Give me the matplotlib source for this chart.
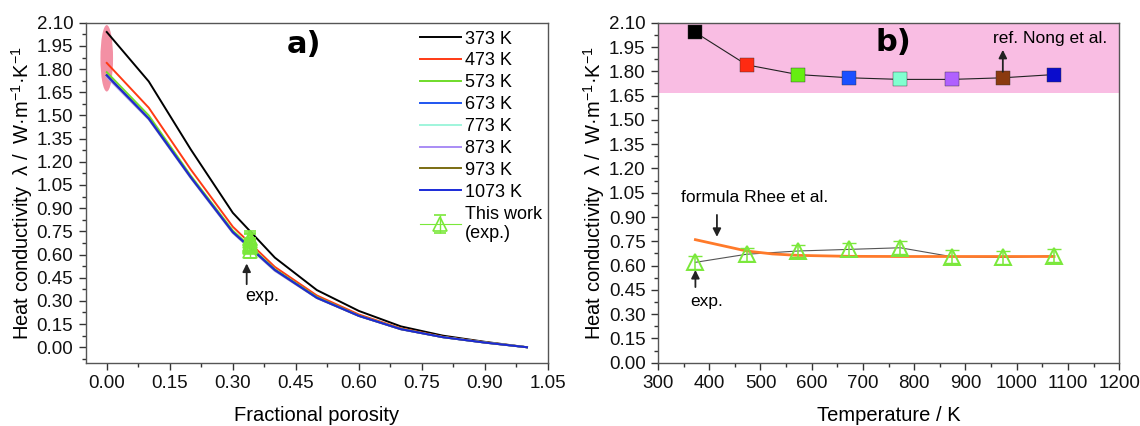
import numpy as np
import matplotlib
matplotlib.use('Agg')
import matplotlib.pyplot as plt
from matplotlib.patches import Ellipse
from matplotlib.ticker import MultipleLocator, FormatStrFormatter

plt.rcParams['font.family'] = ['Liberation Sans', 'DejaVu Sans']
plt.rcParams['mathtext.fontset'] = 'custom'
plt.rcParams['mathtext.rm'] = 'Liberation Sans'
plt.rcParams['mathtext.it'] = 'Liberation Sans:italic'

# ---- data: panel a) ----
porosity = [0.0, 0.1, 0.2, 0.3, 0.4, 0.5, 0.6, 0.7, 0.8, 0.9, 1.0]
temp_labels = ['373 K', '473 K', '573 K', '673 K', '773 K', '873 K', '973 K', '1073 K']
k_373 = [2.04, 1.72, 1.28, 0.87, 0.58, 0.37, 0.235, 0.135, 0.075, 0.035, 0.0]
k_473 = [1.84, 1.55, 1.15, 0.78, 0.52, 0.335, 0.212, 0.122, 0.068, 0.032, 0.0]
k_573 = [1.78, 1.50, 1.11, 0.755, 0.505, 0.325, 0.205, 0.118, 0.066, 0.031, 0.0]
k_673 = [1.76, 1.48, 1.10, 0.745, 0.50, 0.32, 0.203, 0.117, 0.065, 0.030, 0.0]
k_773 = [1.75, 1.475, 1.095, 0.74, 0.495, 0.318, 0.202, 0.116, 0.065, 0.030, 0.0]
k_873 = [1.75, 1.475, 1.095, 0.74, 0.495, 0.318, 0.202, 0.116, 0.065, 0.030, 0.0]
k_973 = [1.76, 1.48, 1.10, 0.745, 0.50, 0.32, 0.203, 0.117, 0.065, 0.030, 0.0]
k_1073 = [1.76, 1.48, 1.10, 0.745, 0.50, 0.32, 0.203, 0.117, 0.065, 0.030, 0.0]
exp_porosity = 0.34

# ---- data: panel b) ----
temperature = [373, 473, 573, 673, 773, 873, 973, 1073]
k_nong = [2.04, 1.84, 1.78, 1.76, 1.75, 1.75, 1.76, 1.78]
k_exp = [0.62, 0.67, 0.69, 0.70, 0.71, 0.655, 0.65, 0.66]
k_exp_err = [0.04, 0.04, 0.04, 0.04, 0.04, 0.04, 0.04, 0.04]
rhee_T = [373, 423, 473, 523, 573, 673, 773, 873, 973, 1073]
k_rhee = [0.76, 0.725, 0.69, 0.672, 0.663, 0.657, 0.656, 0.656, 0.656, 0.656]

line_colors = ['#000000', '#ff3a14', '#6fdc2a', '#1f55f0', '#9ff5dc',
               '#a98cf5', '#7b6d12', '#1a2ad8']
square_colors = ['#000000', '#ff2a12', '#66ee11', '#1a50ff', '#80ffd0',
                 '#b060ff', '#8b3a0f', '#0a0ccc']
exp_green = '#7ae83a'

fig = plt.figure(figsize=(11.4, 4.26), dpi=100)
ax1 = fig.add_axes([0.0752, 0.1486, 0.4055, 0.798])
ax2 = fig.add_axes([0.5772, 0.1486, 0.4045, 0.798])

ylabel = 'Heat conductivity  λ /  W·m$^{-1}$·K$^{-1}$'
arrow = dict(arrowstyle='-|>', color='#222222', lw=1.3, mutation_scale=12)

# ---------- panel a ----------
ax1.add_patch(Ellipse((0.0, 1.87), 0.03, 0.43, color='#f2849a', alpha=0.9,
                      lw=0, zorder=1))
series = [k_373, k_473, k_573, k_673, k_773, k_873, k_973, k_1073]
for vals, lab, c in zip(series, temp_labels, line_colors):
    ax1.plot(porosity, vals, color=c, lw=1.4, label=lab, zorder=2)

ax1.errorbar([exp_porosity] * len(k_exp), k_exp, yerr=k_exp_err, color=exp_green,
             lw=0.8, marker='^', mfc='none', mec=exp_green, ms=10, mew=1.2,
             capsize=4, elinewidth=1, label='This work\n(exp.)', zorder=3)

ax1.annotate('', xy=(0.333, 0.56), xytext=(0.333, 0.39), arrowprops=arrow)
ax1.text(0.37, 0.33, 'exp.', fontsize=13, ha='center', va='center')
ax1.text(0.47, 1.96, 'a)', fontsize=22, fontweight='bold', ha='center',
         va='center', family='DejaVu Sans')

ax1.set_xlim(-0.05, 1.05)
ax1.set_ylim(-0.1, 2.1)
ax1.xaxis.set_major_locator(MultipleLocator(0.15))
ax1.xaxis.set_minor_locator(MultipleLocator(0.075))
ax1.yaxis.set_major_locator(MultipleLocator(0.15))
ax1.yaxis.set_minor_locator(MultipleLocator(0.075))
ax1.xaxis.set_major_formatter(FormatStrFormatter('%.2f'))
ax1.yaxis.set_major_formatter(FormatStrFormatter('%.2f'))
ax1.set_xlabel('Fractional porosity', fontsize=14.5, labelpad=10)
ax1.set_ylabel(ylabel, fontsize=14.5, labelpad=1)

leg = ax1.legend(loc='upper left', bbox_to_anchor=(0.723, 0.977), frameon=False,
                 fontsize=13, handlelength=2.27, handletextpad=0.22,
                 labelspacing=0.27, borderaxespad=0, borderpad=0)

# ---------- panel b ----------
ax2.axhspan(1.668, 2.1, color='#f9bde3', lw=0, zorder=0)
ax2.plot(temperature, k_nong, color='#222222', lw=0.8, zorder=2)
for t, k, c in zip(temperature, k_nong, square_colors):
    ax2.plot(t, k, marker='s', ms=10, color=c, mec='#333333', mew=0.3, zorder=3)

ax2.plot(temperature, k_exp, color='#555555', lw=0.8, zorder=2)
ax2.plot(rhee_T, k_rhee, color='#ff7a2a', lw=2, zorder=3)
ax2.errorbar(temperature, k_exp, yerr=k_exp_err, fmt='none', ecolor=exp_green,
             elinewidth=1.1, capsize=5, zorder=4)
ax2.plot(temperature, k_exp, ls='none', marker='^', mfc='none', mec=exp_green,
         ms=12, mew=1.4, zorder=4)

ax2.annotate('', xy=(973, 1.95), xytext=(973, 1.78), arrowprops=arrow)
ax2.text(1066, 2.0, 'ref. Nong et al.', fontsize=12.5, ha='center', va='center')
ax2.annotate('', xy=(415, 0.76), xytext=(415, 0.93), arrowprops=arrow)
ax2.text(488, 1.02, 'formula Rhee et al.', fontsize=12.5, ha='center', va='center')
ax2.annotate('', xy=(373, 0.59), xytext=(373, 0.45), arrowprops=arrow)
ax2.text(395, 0.38, 'exp.', fontsize=12.5, ha='center', va='center')
ax2.text(760, 1.98, 'b)', fontsize=22, fontweight='bold', ha='center',
         va='center', family='DejaVu Sans')

ax2.set_xlim(300, 1200)
ax2.set_ylim(0, 2.1)
ax2.xaxis.set_major_locator(MultipleLocator(100))
ax2.xaxis.set_minor_locator(MultipleLocator(50))
ax2.yaxis.set_major_locator(MultipleLocator(0.15))
ax2.yaxis.set_minor_locator(MultipleLocator(0.075))
ax2.yaxis.set_major_formatter(FormatStrFormatter('%.2f'))
ax2.set_xlabel('Temperature / K', fontsize=14.5, labelpad=10)
ax2.set_ylabel(ylabel, fontsize=14.5, labelpad=1)

for ax in (ax1, ax2):
    for sp in ax.spines.values():
        sp.set_color('#555555')
        sp.set_linewidth(1.0)
    ax.tick_params(which='both', direction='out', colors='#333333',
                   labelcolor='#111111', labelsize=13.5)
    ax.tick_params(which='major', length=5, width=1, pad=4)
    ax.tick_params(which='minor', length=3, width=1)

fig.savefig('out.png', dpi=100)
